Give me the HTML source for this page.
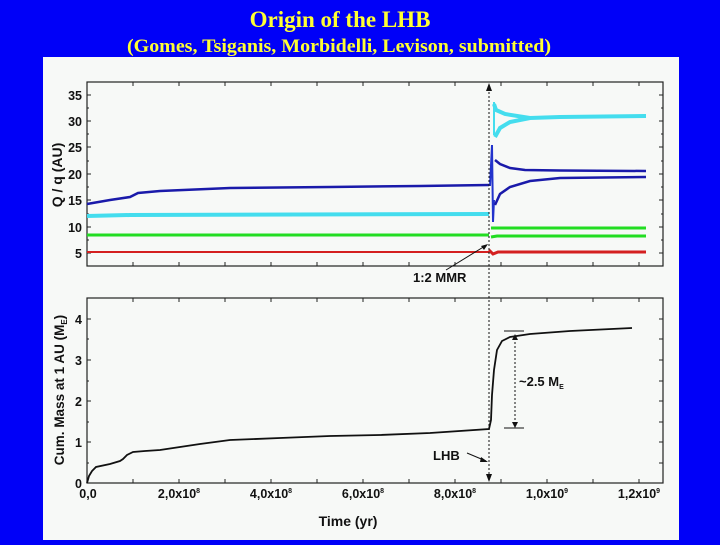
<!DOCTYPE html>
<html><head><style>
body{margin:0;width:720px;height:540px;background:#0000f8;overflow:hidden}
</style></head><body>
<svg width="720" height="540" viewBox="0 0 720 540" xmlns="http://www.w3.org/2000/svg">
<rect width="720" height="540" fill="#0000f8"/>
<text x="340" y="27" text-anchor="middle" font-family="Liberation Serif, serif" font-weight="bold" font-size="23" fill="#ffff33">Origin of the LHB</text>
<text x="339" y="52" text-anchor="middle" font-family="Liberation Serif, serif" font-weight="bold" font-size="19" fill="#ffff33" textLength="424" lengthAdjust="spacingAndGlyphs">(Gomes, Tsiganis, Morbidelli, Levison, submitted)</text>
<rect x="43" y="57" width="636" height="483" fill="#f7f9f7"/>
<g font-family="Liberation Sans, sans-serif" font-weight="bold" font-size="12.5" fill="#111">
<rect x="87" y="82" width="576" height="184" fill="none" stroke="#222" stroke-width="1.2"/>
<g stroke="#222" stroke-width="1">
<path d="M87 95h4M87 121h4M87 147h4M87 174h4M87 200h4M87 227h4M87 253h4M87 108h2M87 134h2M87 161h2M87 187h2M87 214h2M87 240h2"/>
<path d="M663 95h-4M663 121h-4M663 147h-4M663 174h-4M663 200h-4M663 227h-4M663 253h-4M663 108h-2M663 134h-2M663 161h-2M663 187h-2M663 214h-2M663 240h-2"/>
<path d="M133 82v4M179 82v4M225 82v4M271 82v4M317 82v4M363 82v4M409 82v4M455 82v4M501 82v4M547 82v4M593 82v4M639 82v4"/>
<path d="M133 266v-4M179 266v-4M225 266v-4M271 266v-4M317 266v-4M363 266v-4M409 266v-4M455 266v-4M501 266v-4M547 266v-4M593 266v-4M639 266v-4"/>
</g>
<g text-anchor="end"><text x="82" y="100">35</text><text x="82" y="126">30</text><text x="82" y="152">25</text><text x="82" y="179">20</text><text x="82" y="205">15</text><text x="82" y="232">10</text><text x="82" y="258">5</text></g>
<text transform="translate(62,175) rotate(-90)" text-anchor="middle" font-size="14">Q / q  (AU)</text>
<path d="M87 252H489" stroke="#d42020" stroke-width="2" fill="none"/>
<path d="M489 250L493 254L498 252H646" stroke="#d42020" stroke-width="3" fill="none"/>
<path d="M87 235H489" stroke="#22dd22" stroke-width="3" fill="none"/>
<path d="M491 228H646M491 237L497 236H646" stroke="#22dd22" stroke-width="3" fill="none"/>
<path d="M87 216L130 215L489 214" stroke="#44ddee" stroke-width="4" fill="none"/>
<path d="M494 104L496 110L505 114L530 118L560 117L646 116M495 137L500 128L510 122L530 118" stroke="#44ddee" stroke-width="4" fill="none"/>
<path d="M494 102V135" stroke="#44ddee" stroke-width="2" fill="none"/>
<path d="M87 204L110 200L130 197L138 193L160 191L230 188L330 187L420 186L489 185" stroke="#1a1aaa" stroke-width="2.5" fill="none"/>
<path d="M490 186L492 145L493 222L494 200" stroke="#2233cc" stroke-width="2" fill="none"/>
<path d="M495 160L500 164L510 168L525 170L560 170.5L646 171M495 205L500 194L510 187L530 181L560 178L646 177" stroke="#1a1aaa" stroke-width="2.5" fill="none"/>
<text x="413" y="282" font-size="13">1:2 MMR</text>
<path d="M446 270L485 246" stroke="#111" stroke-width="1"/>
<path d="M488 244L481 246L484 250Z" fill="#111"/>
<rect x="87" y="298" width="576" height="185" fill="none" stroke="#222" stroke-width="1.2"/>
<g stroke="#222" stroke-width="1">
<path d="M87 319h4M87 360h4M87 401h4M87 442h4M87 339h2M87 381h2M87 422h2M87 463h2"/>
<path d="M663 319h-4M663 339h-4M663 360h-4M663 381h-4M663 401h-4M663 422h-4M663 442h-4M663 463h-4"/>
<path d="M133 298v4M179 298v4M225 298v4M271 298v4M317 298v4M363 298v4M409 298v4M455 298v4M501 298v4M547 298v4M593 298v4M639 298v4"/>
<path d="M133 483v-4M179 483v-4M225 483v-4M271 483v-4M317 483v-4M363 483v-4M409 483v-4M455 483v-4M501 483v-4M547 483v-4M593 483v-4M639 483v-4"/>
</g>
<g text-anchor="end"><text x="82" y="324">4</text><text x="82" y="365">3</text><text x="82" y="406">2</text><text x="82" y="447">1</text><text x="82" y="488">0</text></g>
<g text-anchor="middle">
<text x="88" y="498">0,0</text>
<text x="179" y="498">2,0x10<tspan font-size="7" dy="-5">8</tspan></text>
<text x="271" y="498">4,0x10<tspan font-size="7" dy="-5">8</tspan></text>
<text x="363" y="498">6,0x10<tspan font-size="7" dy="-5">8</tspan></text>
<text x="455" y="498">8,0x10<tspan font-size="7" dy="-5">8</tspan></text>
<text x="547" y="498">1,0x10<tspan font-size="7" dy="-5">9</tspan></text>
<text x="639" y="498">1,2x10<tspan font-size="7" dy="-5">9</tspan></text>
<text x="348" y="526" font-size="14">Time (yr)</text>
</g>
<text transform="translate(64,390) rotate(-90)" text-anchor="middle" font-size="13.5">Cum. Mass at 1 AU (M<tspan font-size="8" dy="3">E</tspan><tspan dy="-3">)</tspan></text>
<path d="M87 483L89 476L92 471L96 467L110 464L120 461L123 459L127 455L133 452L145 451L160 450L180 447L200 444L230 440L280 438L330 436L380 435L430 433L489 429L491 420L492 395L494 370L497 350L502 341L510 337L530 334L570 331L632 328" stroke="#111" stroke-width="1.8" fill="none"/>
<path d="M504 331H524M504 428H524" stroke="#111" stroke-width="1"/>
<path d="M515 338V424" stroke="#111" stroke-width="1" stroke-dasharray="2,2"/>
<path d="M515 334L512 340H518Z M515 428L512 422H518Z" fill="#111"/>
<text x="519" y="386" font-size="13">~2.5 M<tspan font-size="7" dy="3">E</tspan></text>
<text x="433" y="460" font-size="13">LHB</text>
<path d="M467 453L486 461" stroke="#111" stroke-width="1"/>
<path d="M488 462L481 457L480 462Z" fill="#111"/>
<path d="M489 88V478" stroke="#111" stroke-width="1" stroke-dasharray="2,2"/>
<path d="M489 83L486 91H492Z M489 482L486 474H492Z" fill="#111"/>
</g>
</svg>
</body></html>
